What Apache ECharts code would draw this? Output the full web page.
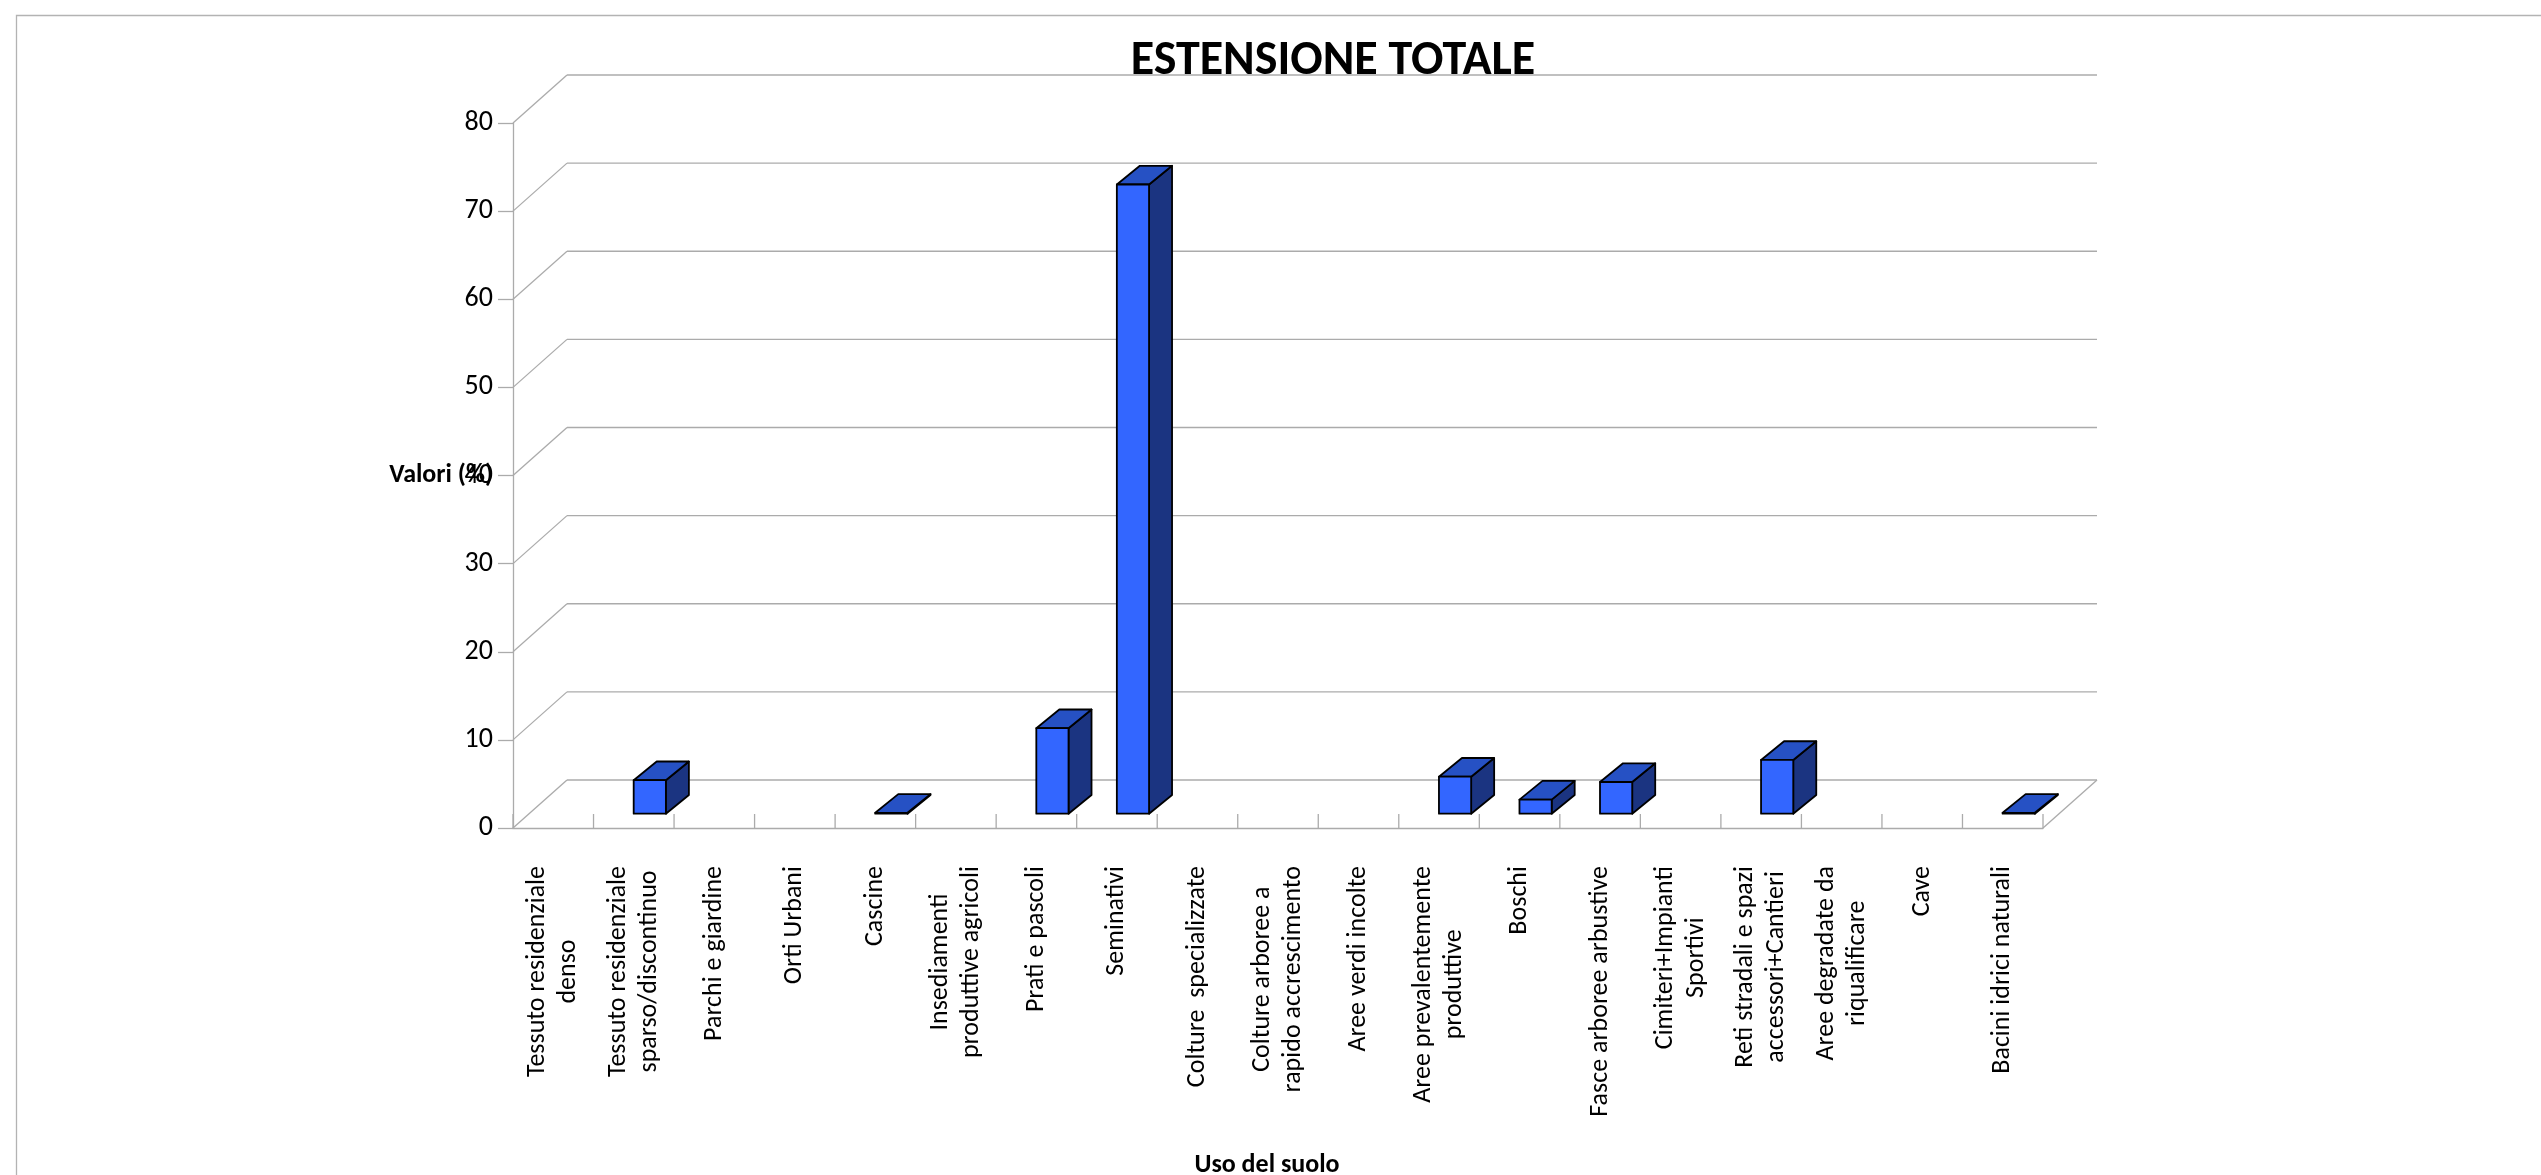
<!DOCTYPE html>
<html>
<head>
<meta charset="utf-8">
<title>Estensione totale</title>
<script src="https://cdn.jsdelivr.net/npm/echarts@6/dist/echarts.min.js"></script>
<style>
  html, body { margin: 0; padding: 0; background: #fff; }
  #chart { width: 2541px; height: 1175px; }
</style>
</head>
<body>
<div id="chart"></div>
<script>
const categories = [
  'Tessuto residenziale\ndenso',
  'Tessuto residenziale\nsparso/discontinuo',
  'Parchi e giardine',
  'Orti Urbani',
  'Cascine',
  'Insediamenti\nproduttive agricoli',
  'Prati e pascoli',
  'Seminativi',
  'Colture  specializzate',
  'Colture arboree a\nrapido accrescimento',
  'Aree verdi incolte',
  'Aree prevalentemente\nproduttive',
  'Boschi',
  'Fasce arboree arbustive',
  'Cimiteri+Impianti\nSportivi',
  'Reti stradali e spazi\naccessori+Cantieri',
  'Aree degradate da\nriqualificare',
  'Cave',
  'Bacini idrici naturali'
]
// valori in % (celle vuote = null)
const values = [null, 3.8, null, null, 0.1, null, 9.7, 71.4, null, null, null, 4.2, 1.6, 3.6, null, 6.1, null, null, 0.1]
const yTicks = [0, 10, 20, 30, 40, 50, 60, 70, 80]

const FONT = 'Carlito, Lato, "Open Sans", sans-serif'
const GRID_COLOR = '#ababab'
// finto 3D: spostamento della parete di fondo e delle barre (px)
const WALL_DX = 54
const WALL_DY = -48
const FRONT_DX = 16
const FRONT_DY = -14.3
const BAR_DX = 23
const BAR_DY = -18.7

const chart = echarts.init(document.getElementById('chart'))

function seg(x1, y1, x2, y2) {
  return {
    type: 'line',
    shape: { x1, y1, x2, y2 },
    style: { stroke: GRID_COLOR, lineWidth: 1.3 },
    silent: true
  }
}

function renderWall(params, api) {
  const v = api.value(1)
  const bw = api.size([1, 0])[0]
  const first = api.coord([0, v])
  const last = api.coord([categories.length - 1, v])
  const xl = first[0] - bw / 2
  const xr = last[0] + bw / 2
  const y = first[1]
  const children = [
    seg(xl, y, xl + WALL_DX, y + WALL_DY),
    seg(xl + WALL_DX, y + WALL_DY, xr + WALL_DX, y + WALL_DY)
  ]
  if (v === 0) {
    children.push(seg(xr, y, xr + WALL_DX, y + WALL_DY))
    // parte interna delle tacche sull'asse x
    for (let k = 0; k <= categories.length; k++) {
      children.push(seg(xl + k * bw, y, xl + k * bw, y - 14))
    }
  }
  return { type: 'group', children }
}

function renderBar(params, api) {
  const v = api.value(1)
  if (v == null || isNaN(v)) {
    return null
  }
  const i = api.value(0)
  const bw = api.size([1, 0])[0]
  const base = api.coord([i, 0])
  const top = api.coord([i, v])
  const w = bw * 0.4
  const x0 = base[0] + FRONT_DX - w / 2
  const x1 = x0 + w
  const yb = base[1] + FRONT_DY
  const yt = top[1] + FRONT_DY
  const stroke = { stroke: '#000', lineWidth: 1.8, lineJoin: 'round' }
  return {
    type: 'group',
    children: [
      {
        type: 'polygon',
        shape: { points: [[x1, yt], [x1 + BAR_DX, yt + BAR_DY], [x1 + BAR_DX, yb + BAR_DY], [x1, yb]] },
        style: Object.assign({ fill: '#1b3481' }, stroke)
      },
      {
        type: 'polygon',
        shape: { points: [[x0, yt], [x1, yt], [x1 + BAR_DX, yt + BAR_DY], [x0 + BAR_DX, yt + BAR_DY]] },
        style: Object.assign({ fill: '#2651c4' }, stroke)
      },
      {
        type: 'rect',
        shape: { x: x0, y: yt, width: w, height: yb - yt },
        style: Object.assign({ fill: '#3366ff' }, stroke)
      }
    ]
  }
}

chart.setOption({
  animation: false,
  backgroundColor: '#fff',
  title: {
    text: 'ESTENSIONE TOTALE',
    left: 1328,
    top: 33,
    textAlign: 'center',
    textStyle: {
      fontFamily: FONT,
      fontWeight: 'bold',
      fontSize: 48,
      color: '#000'
    }
  },
  graphic: [
    {
      type: 'rect',
      left: 14,
      top: 13,
      shape: { width: 2600, height: 1200 },
      style: { fill: 'none', stroke: '#b3b3b3', lineWidth: 1.3 },
      silent: true
    }
  ],
  grid: {
    left: 513,
    right: 498,
    top: 123,
    bottom: 347,
    outerBoundsMode: 'none'
  },
  xAxis: {
    type: 'category',
    data: categories,
    name: 'Uso del suolo',
    nameLocation: 'middle',
    nameGap: 324,
    nameTextStyle: {
      fontFamily: FONT,
      fontWeight: 'bold',
      fontSize: 26,
      color: '#000',
      padding: [0, 22, 0, 0]
    },
    axisLine: { lineStyle: { color: GRID_COLOR, width: 1.3 } },
    axisTick: { length: 14, lineStyle: { color: GRID_COLOR, width: 1.3 } },
    axisLabel: {
      interval: 0,
      rotate: 90,
      margin: 38,
      formatter: (val) => val.split('\n').map(s => '{c|' + s + '}').join('\n'),
      rich: {
        c: {
          align: 'center',
          fontFamily: FONT,
          fontSize: 26,
          lineHeight: 31,
          color: '#000'
        }
      }
    }
  },
  yAxis: {
    type: 'value',
    min: 0,
    max: 80,
    interval: 10,
    name: 'Valori (%)',
    nameLocation: 'middle',
    nameRotate: 0,
    nameGap: 20,
    nameMoveOverlap: false,
    nameTextStyle: {
      fontFamily: FONT,
      fontWeight: 'bold',
      fontSize: 26,
      color: '#000'
    },
    axisLine: { show: true, lineStyle: { color: GRID_COLOR, width: 1.3 } },
    axisTick: { show: true, length: 15, lineStyle: { color: GRID_COLOR, width: 1.3 } },
    splitLine: { show: false },
    axisLabel: {
      margin: 20,
      fontFamily: FONT,
      fontSize: 28,
      color: '#000'
    }
  },
  series: [
    {
      name: 'parete',
      type: 'custom',
      renderItem: renderWall,
      data: yTicks.map(v => [0, v]),
      z: 1,
      silent: true
    },
    {
      name: 'Estensione',
      type: 'custom',
      renderItem: renderBar,
      data: values.map((v, i) => [i, v]),
      z: 3
    }
  ]
})
</script>
</body>
</html>
